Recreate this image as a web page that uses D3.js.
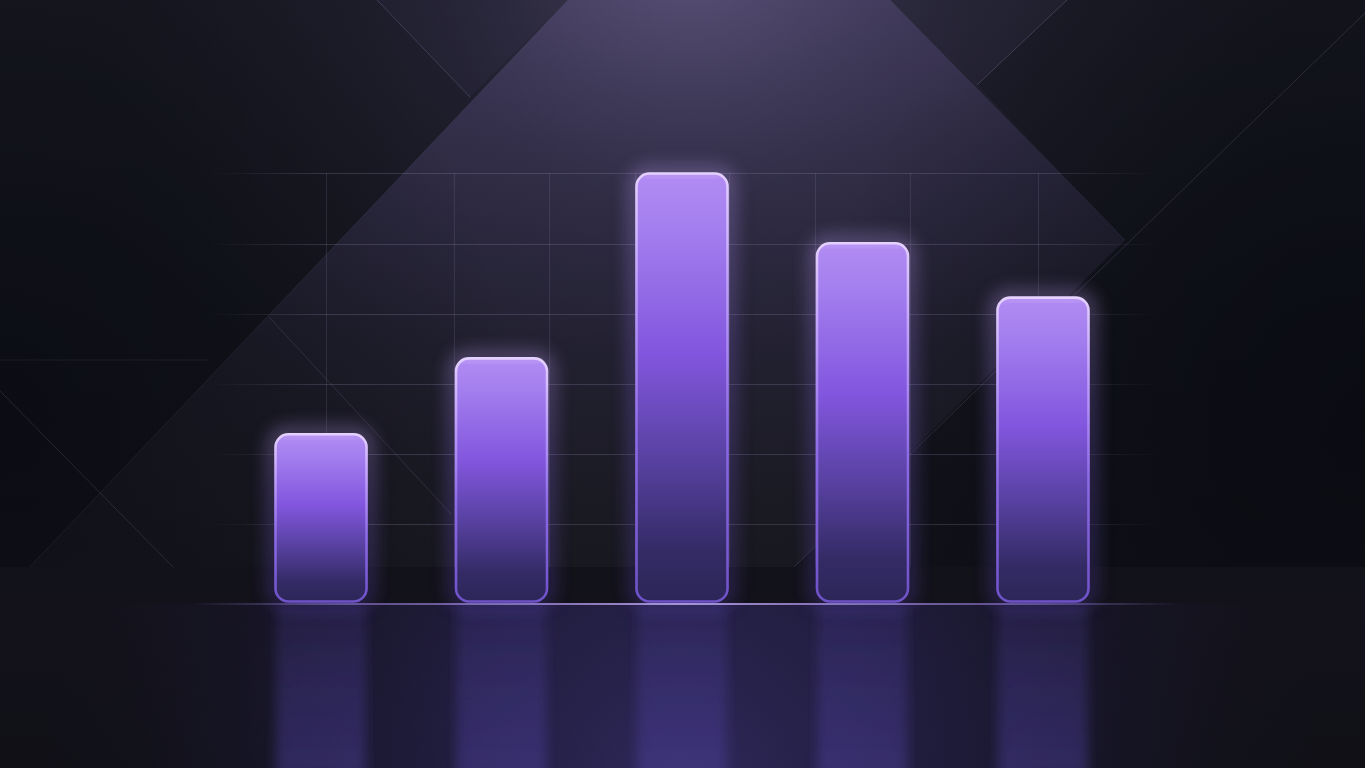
<!DOCTYPE html>
<html>
<head>
<meta charset="utf-8">
<script src="https://cdn.jsdelivr.net/npm/d3@7/dist/d3.min.js"></script>
<style>
  html, body { margin: 0; padding: 0; background: #111219; overflow: hidden; }
  svg { display: block; }
</style>
</head>
<body>
<svg id="chart" width="1365" height="768"></svg>
<script>
// ---- data ----
const categories = ["Q1", "Q2", "Q3", "Q4", "Q5"];
const values = [39.5, 57.1, 100, 83.8, 71.2];
const gridTicks = [18.3, 34.6, 50.8, 67.1, 83.3, 99.8];

// ---- setup ----
const W = 1365, H = 768;
const svg = d3.select("#chart");
const defs = svg.append("defs");

const x = d3.scaleBand().domain(categories).range([274, 1090]).paddingInner(0.479).paddingOuter(0);
const y = d3.scaleLinear().domain([0, 100]).range([603, 172]);
const base = y(0);
const horizon = 567;

function linGrad(id, x1, y1, x2, y2, stops, units) {
  const g = defs.append("linearGradient").attr("id", id)
    .attr("x1", x1).attr("y1", y1).attr("x2", x2).attr("y2", y2);
  if (units) g.attr("gradientUnits", units);
  stops.forEach(s => g.append("stop").attr("offset", s[0]).attr("stop-color", s[1]).attr("stop-opacity", s[2] == null ? 1 : s[2]));
  return g;
}
function radGrad(id, cx, cy, r, stops) {
  const g = defs.append("radialGradient").attr("id", id).attr("gradientUnits", "userSpaceOnUse")
    .attr("cx", cx).attr("cy", cy).attr("r", r);
  stops.forEach(s => g.append("stop").attr("offset", s[0]).attr("stop-color", s[1]).attr("stop-opacity", s[2] == null ? 1 : s[2]));
  return g;
}

// gradients
linGrad("bgWall", 0, 0, 0, 1, [[0, "#15161f"], [0.6, "#12131a"], [1, "#0f1016"]]);
linGrad("triFill", 0, 0, 0, 1, [[0, "#393350"], [0.25, "#2c2940"], [0.6, "#1f1e2c"], [1, "#18181f"]]);
radGrad("spot", 690, -60, 600, [[0, "#8a7fb0", 0.42], [0.45, "#5a5080", 0.15], [1, "#3a3450", 0]]);
radGrad("rightDark", 1365, 420, 560, [[0, "#07090f", 0.75], [1, "#07090f", 0]]);
radGrad("leftDark", 0, 420, 520, [[0, "#07090f", 0.6], [1, "#07090f", 0]]);
linGrad("floorFill", 0, 0, 0, 1, [[0, "#121219"], [0.2, "#13121b"], [1, "#101016"]]);
radGrad("floorGlow", 682, 800, 640, [[0, "#3b3274", 0.75], [0.45, "#2e2760", 0.45], [0.8, "#221e44", 0.15], [1, "#1a1830", 0]]);
linGrad("barFill", 0, 0, 0, 1, [[0, "#b28cf3"], [0.12, "#a480ef"], [0.42, "#8256de"], [0.68, "#56409e"], [0.88, "#342b66"], [1, "#2c2658"]]);
linGrad("barStroke", 0, 0, 0, 1, [[0, "#e4d0ff"], [0.25, "#bfa0fa"], [0.6, "#8d6ae6"], [1, "#6e52c8"]]);
linGrad("glowStroke", 0, 0, 0, 1, [[0, "#c8a6ff"], [0.4, "#9270ee"], [1, "#5e44c0"]]);
linGrad("reflFill", 0, 0, 0, 1, [[0, "#4c3e9a", 0.22], [0.4, "#4f40a2", 0.32], [1, "#5244a8", 0.42]]);
linGrad("gridH", 208, 0, 1160, 0, [[0, "#a59cc8", 0], [0.12, "#a59cc8", 0.22], [0.88, "#a59cc8", 0.2], [1, "#a59cc8", 0]], "userSpaceOnUse");
linGrad("baseLine", 190, 0, 1180, 0, [[0, "#b9a0ff", 0], [0.15, "#a78cf0", 0.6], [0.5, "#cdb8ff", 1], [0.85, "#a78cf0", 0.6], [1, "#b9a0ff", 0]], "userSpaceOnUse");

// filters
const glow = defs.append("filter").attr("id", "glow").attr("x", "-50%").attr("y", "-20%").attr("width", "200%").attr("height", "140%");
glow.append("feGaussianBlur").attr("stdDeviation", 9);
const glowSm = defs.append("filter").attr("id", "glowSm").attr("x", "-50%").attr("y", "-50%").attr("width", "200%").attr("height", "200%");
glowSm.append("feGaussianBlur").attr("stdDeviation", 3);
const blurRefl = defs.append("filter").attr("id", "blurRefl").attr("x", "-30%").attr("y", "-10%").attr("width", "160%").attr("height", "120%");
blurRefl.append("feGaussianBlur").attr("stdDeviation", "6 3");

// ---- background ----
const bg = svg.append("g");
bg.append("rect").attr("width", W).attr("height", H).attr("fill", "url(#bgWall)");
// lit pyramid panel
bg.append("polygon").attr("points", "568,0 890,0 1125,240 794,567 27,570").attr("fill", "url(#triFill)");
// top-right panel wedge
bg.append("polygon").attr("points", "890,0 1067,0 977,85 1125,240").attr("fill", "#262433").attr("opacity", 0.5);
bg.append("polygon").attr("points", "377,0 568,0 470,97").attr("fill", "#1d1d29").attr("opacity", 0.7);
bg.append("rect").attr("width", W).attr("height", H).attr("fill", "url(#spot)");
bg.append("rect").attr("width", W).attr("height", H).attr("fill", "url(#rightDark)");
bg.append("rect").attr("width", W).attr("height", H).attr("fill", "url(#leftDark)");

// thin architectural lines
const lines = [
  [377, 0, 470, 97, 0.26],
  [568, 0, 27, 570, 0.1],
  [890, 0, 1125, 240, 0.1],
  [1067, 0, 977, 85, 0.28],
  [1365, 13, 794, 567, 0.2],
  [0, 391, 173, 567, 0.18],
  [269, 317, 451, 514, 0.18],
  [0, 360, 208, 360, 0.1]
];
bg.selectAll("line.arch").data(lines).join("line").attr("class", "arch")
  .attr("x1", d => d[0]).attr("y1", d => d[1]).attr("x2", d => d[2]).attr("y2", d => d[3])
  .attr("stroke", "#9c92c0").attr("stroke-opacity", d => d[4]).attr("stroke-width", 1);

// floor
bg.append("rect").attr("x", 0).attr("y", horizon).attr("width", W).attr("height", H - horizon).attr("fill", "url(#floorFill)");
bg.append("rect").attr("x", 0).attr("y", base).attr("width", W).attr("height", H - base).attr("fill", "url(#floorGlow)");

// ---- grid ----
const grid = svg.append("g");
grid.selectAll("line.h").data(gridTicks).join("line").attr("class", "h")
  .attr("x1", 208).attr("x2", 1160)
  .attr("y1", d => Math.round(y(d)) + 0.5).attr("y2", d => Math.round(y(d)) + 0.5)
  .attr("stroke", "url(#gridH)").attr("stroke-width", 1.2);

const bw = x.bandwidth();
const gridCols = [];
categories.forEach((c, i) => {
  if (i === 0 || i === categories.length - 1) gridCols.push(x(c) + bw / 2 + (i === 0 ? 5 : -5));
  else { gridCols.push(x(c)); gridCols.push(x(c) + bw); }
});
grid.selectAll("line.v").data(gridCols).join("line").attr("class", "v")
  .attr("x1", d => Math.round(d) + 0.5).attr("x2", d => Math.round(d) + 0.5)
  .attr("y1", y(gridTicks[gridTicks.length - 1])).attr("y2", horizon)
  .attr("stroke", "#a59cc8").attr("stroke-opacity", 0.15).attr("stroke-width", 1);

// ---- reflections ----
const refl = svg.append("g").attr("filter", "url(#blurRefl)");
refl.selectAll("rect").data(values).join("rect")
  .attr("x", (d, i) => x(categories[i]) + 2)
  .attr("y", base + 4)
  .attr("width", bw - 4)
  .attr("height", H - base)
  .attr("fill", "url(#reflFill)");

// ---- bars ----
const r = 13;
const barsGlow = svg.append("g").attr("filter", "url(#glow)");
barsGlow.selectAll("rect").data(values).join("rect")
  .attr("x", (d, i) => x(categories[i]))
  .attr("y", d => y(d))
  .attr("width", bw)
  .attr("height", d => base - y(d))
  .attr("rx", r)
  .attr("fill", "none")
  .attr("stroke", "url(#glowStroke)")
  .attr("stroke-width", 8)
  .attr("opacity", 0.55);

const bars = svg.append("g");
bars.selectAll("rect.bar").data(values).join("rect").attr("class", "bar")
  .attr("x", (d, i) => x(categories[i]) + 1.5)
  .attr("y", d => y(d) + 1.5)
  .attr("width", bw - 3)
  .attr("height", d => base - y(d) - 3)
  .attr("rx", r)
  .attr("fill", "url(#barFill)")
  .attr("stroke", "url(#barStroke)")
  .attr("stroke-width", 2.6);

// top highlight glow
bars.selectAll("rect.hl").data(values).join("rect").attr("class", "hl")
  .attr("x", (d, i) => x(categories[i]) + 8)
  .attr("y", d => y(d) + 2)
  .attr("width", bw - 16)
  .attr("height", 3)
  .attr("fill", "#efe2ff")
  .attr("opacity", 0.3)
  .attr("filter", "url(#glowSm)");

// ---- baseline ----
svg.append("line").attr("x1", 190).attr("x2", 1180).attr("y1", base + 1).attr("y2", base + 1)
  .attr("stroke", "url(#baseLine)").attr("stroke-width", 6).attr("opacity", 0.35).attr("filter", "url(#glowSm)");
svg.append("line").attr("x1", 190).attr("x2", 1180).attr("y1", base + 1).attr("y2", base + 1)
  .attr("stroke", "url(#baseLine)").attr("stroke-width", 1.6);
</script>
</body>
</html>
